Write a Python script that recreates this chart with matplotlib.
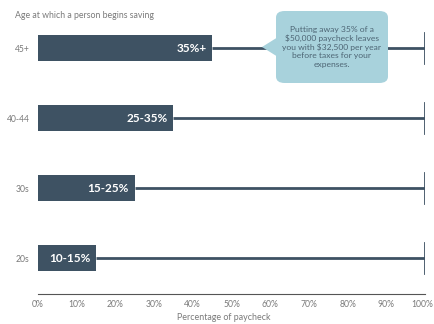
import matplotlib
matplotlib.use("Agg")
import matplotlib.pyplot as plt
import matplotlib.transforms as mtransforms
from matplotlib.patches import FancyBboxPatch, Polygon

ages = ["20s", "30s", "40-44", "45+"]
bar_ends = [15, 25, 35, 45]
bar_labels = ["10-15%", "15-25%", "25-35%", "35%+"]
xticks = [0, 10, 20, 30, 40, 50, 60, 70, 80, 90, 100]
xtick_labels = [f"{v}%" for v in xticks]
callout = "Putting away 35% of a\n\\$50,000 paycheck leaves\nyou with \\$32,500 per year\nbefore taxes for your\nexpenses."

plt.rcParams['font.family'] = ['Lato', 'DejaVu Sans']
dark = "#3e5263"
gray = "#7a7a7a"

fig = plt.figure(figsize=(4.34, 3.24), dpi=100)
ax = fig.add_axes([38/434, 1-294/324, 387/434, 270/324])
ys = list(range(len(ages)))
ax.barh(ys, bar_ends, height=0.37, color=dark, zorder=3)
for y, e, lab in zip(ys, bar_ends, bar_labels):
    ax.plot([e, 100], [y, y], color=dark, lw=2, zorder=2, solid_capstyle='butt')
    ax.plot([100, 100], [y-0.21, y+0.21], color=dark, lw=2, zorder=2)
    ax.text(e-1.5, y, lab, color="white", fontweight="bold", fontsize=8.5,
            ha="right", va="center", zorder=4)
ax.set_xlim(0, 100)
ax.set_ylim(-0.514, 3.343)
ax.set_yticks(ys)
ax.set_yticklabels(ages, fontsize=6.2, color=gray)
ax.set_xticks(xticks)
ax.set_xticklabels(xtick_labels, fontsize=6.2, color=gray)
ax.tick_params(length=0, pad=4)
ax.tick_params(axis='y', pad=6)
for s in ["top", "right", "left"]:
    ax.spines[s].set_visible(False)
ax.spines["bottom"].set_color("#555555")
ax.spines["bottom"].set_linewidth(0.8)
last = ax.get_xticklabels()[-1]
last.set_transform(last.get_transform() +
                   mtransforms.ScaledTranslation(-3/100, 0, fig.dpi_scale_trans))

W, H = 434, 324
fig.text(224/W, 1-317/H, "Percentage of paycheck", fontsize=6.4, color=gray,
         ha="center", va="center")
fig.text(15/W, 1-16/H, "Age at which a person begins saving", fontsize=6.3,
         color=gray, ha="left", va="center")

# callout box in figure pixel coords
x0, x1 = 276, 388
y0, y1 = 11, 83
box = FancyBboxPatch((x0/W, 1-y1/H), (x1-x0)/W, (y1-y0)/H,
                     boxstyle="round,pad=0,rounding_size=0.02",
                     transform=fig.transFigure, facecolor="#a8d2dc",
                     edgecolor="none", zorder=5)
fig.patches.append(box)
tri = Polygon([(x0/W+0.001, 1-38/H), (262/W, 1-47/H), (x0/W+0.001, 1-56/H)],
              closed=True, transform=fig.transFigure, facecolor="#a8d2dc",
              edgecolor="none", zorder=5)
fig.patches.append(tri)
fig.text((x0+x1)/2/W, 1-(y0+y1)/2/H, callout, fontsize=6.1, color="#4d6574",
         ha="center", va="center", linespacing=1.2, zorder=6)

fig.savefig("out.png", dpi=100)
